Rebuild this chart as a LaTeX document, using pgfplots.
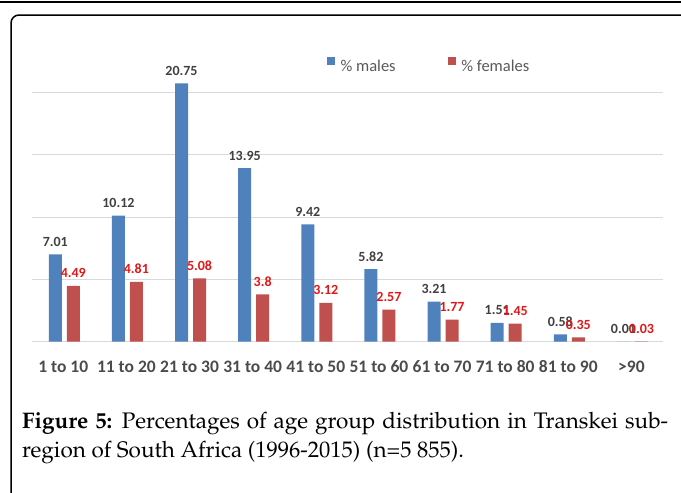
\documentclass[border=0pt]{standalone}
\usepackage[T1]{fontenc}
\usepackage{pgfplots}
\pgfplotsset{compat=1.18}
\usepackage{fontspec}
\newfontfamily\calibri{Carlito}
\definecolor{mblue}{RGB}{79,129,189}
\definecolor{mred}{RGB}{192,80,77}
\definecolor{lblue}{RGB}{64,64,64}
\definecolor{lred}{RGB}{228,22,22}
\definecolor{tickgray}{RGB}{75,75,75}
\definecolor{leggray}{RGB}{89,89,89}
\definecolor{gridgray}{RGB}{217,217,217}
\begin{document}
\begin{tikzpicture}[x=1pt,y=1pt]
\useasboundingbox (0,0) rectangle (681,-493);
\clip (0,0) rectangle (681,-493);
\draw[line width=1.5pt] (0,-2) -- (681,-2);
\draw[line width=1.5pt, rounded corners=8pt] (11,-520) -- (11,-15) -- (720,-15);
\begin{axis}[
  at={(31.7pt,-341.7pt)}, anchor=south west,
  scale only axis, width=631.3pt, height=311.25pt,
  xmin=-0.5, xmax=9.5, ymin=0, ymax=25,
  axis line style={draw=none}, tick style={draw=none},
  ytick={0,5,10,15,20}, yticklabels={},
  ymajorgrids, grid style={gridgray, line width=1pt},
  xtick={0,1,2,3,4,5,6,7,8,9},
  xticklabels={1 to 10,11 to 20,21 to 30,31 to 40,41 to 50,51 to 60,61 to 70,71 to 80,81 to 90,>90},
  xticklabel style={font=\calibri\bfseries\fontsize{17.5}{17.5}\selectfont, text=tickgray, anchor=base, yshift=-27pt},
  ybar, bar width=13pt,
  nodes near coords, point meta=explicit symbolic,
  legend columns=2,
  legend style={at={(0.4673,0.889)}, anchor=west, draw=none, fill=none, inner sep=0pt,
    font=\calibri\fontsize{16.5}{16.5}\selectfont, text=leggray, nodes={inner sep=0pt},
    /tikz/every odd column/.append style={column sep=5.7pt},
    /tikz/every even column/.append style={column sep=52pt}},
  legend image code/.code={\fill[#1] (0pt,1pt) rectangle (8pt,9pt);},
]
\addplot[fill=mblue, draw=none, bar shift=-8pt,
  every node near coord/.append style={text=lblue, font=\calibri\bfseries\fontsize{14}{14}\selectfont, anchor=base, yshift=8pt}]
  coordinates {(0,7.01) [7.01] (1,10.12) [10.12] (2,20.75) [20.75] (3,13.95) [13.95] (4,9.42) [9.42]
               (5,5.82) [5.82] (6,3.21) [3.21] (7,1.51) [1.51] (8,0.58) [0.58] (9,0.01) [0.01]};
\addlegendentry{\% males}
\addplot[fill=mred, draw=none, bar shift=10pt,
  every node near coord/.append style={text=lred, font=\calibri\bfseries\fontsize{14}{14}\selectfont, anchor=base, yshift=8pt}]
  coordinates {(0,4.49) [4.49] (1,4.81) [4.81] (2,5.08) [5.08] (3,3.8) [3.8] (4,3.12) [3.12]
               (5,2.57) [2.57] (6,1.77) [1.77] (7,1.45) [1.45] (8,0.35) [0.35] (9,0.03) [0.03]};
\addlegendentry{\% females}
\end{axis}
\node[anchor=base west, inner sep=0pt, font=\fontencoding{T1}\fontfamily{ppl}\fontsize{22.5}{29}\selectfont] at (22,-428)
  {\makebox[646pt][s]{\textbf{Figure 5:} Percentages of age group distribution in Transkei sub-}};
\node[anchor=base west, inner sep=0pt, font=\fontencoding{T1}\fontfamily{ppl}\fontsize{22.5}{29}\selectfont] at (22,-457)
  {region of South Africa (1996-2015) (n=5~855).};
\end{tikzpicture}
\end{document}
